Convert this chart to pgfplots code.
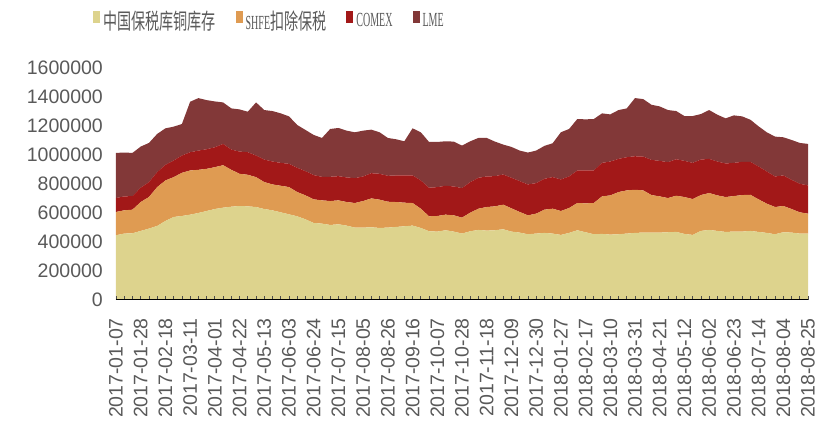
\documentclass[border=0pt]{standalone}
\usepackage{pgfplots}
\pgfplotsset{compat=1.18}
\usepackage{pgfplotstable}
\usepackage{fontspec}
\setmainfont{Liberation Sans}
\newfontfamily\cjk[FakeStretch=0.64]{Noto Sans CJK SC}
\newfontfamily\legserif[FakeStretch=0.5]{Liberation Serif}
\newcommand\lcjk{\cjk\fontsize{22}{22}\selectfont}
\newcommand\llat{\legserif\fontsize{20}{22}\selectfont}

\definecolor{cbond}{HTML}{DDD38D}
\definecolor{cshfe}{HTML}{DF9B52}
\definecolor{ccomex}{HTML}{A21818}
\definecolor{clme}{HTML}{823838}
\definecolor{txt}{HTML}{595959}

% weekly stocks (t); columns: index, bonded China, SHFE ex-bonded, COMEX, LME
\pgfplotstableread{
i  bond   shfe   comex  lme
0  446600 160300 96200  311400
1  458000 160300 96200  302300
2  460300 162600 93900  297700
3  476300 199200 98500  284000
4  492400 217600 103100 270200
5  510700 267900 103100 263400
6  545000 279400 107600 251900
7  572500 274800 114500 233600
8  579400 297700 119100 217600
9  588500 304600 126000 348100
10 600000 297700 132800 361800
11 613700 290800 135100 338900
12 627500 288500 137400 316000
13 636600 293100 146600 286300
14 643500 254200 139700 284000
15 648100 222100 153400 290800
16 645800 217600 155700 279400
17 641200 206100 148900 366400
18 627500 185500 155700 341200
19 618300 178600 158000 348100
20 604600 183200 158000 341200
21 590800 187800 160300 327500
22 577100 167200 167200 295400
23 556500 164900 167200 284000
24 531300 162600 167200 277100
25 526700 160300 162600 267900
26 517500 164900 167200 329800
27 522100 164900 167200 332100
28 513000 162600 169500 322900
29 499200 169500 171800 316000
30 499200 183200 169500 316000
31 501500 199200 174000 300000
32 496900 194700 178600 286300
33 499200 178600 178600 261100
34 503800 171800 183200 249600
35 508400 162600 187800 235900
36 513000 155700 190100 325200
37 496900 132800 194700 332100
38 474000 103100 196900 316000
39 471700 107600 199200 311400
40 480900 107600 199200 306900
41 471700 112200 199200 309200
42 458000 109900 203800 293100
43 474000 128200 210700 281700
44 483200 146600 213000 274800
45 478600 162600 210700 265600
46 480900 164900 208400 238200
47 487800 169500 208400 206100
48 471700 160300 210700 213000
49 464900 142000 213000 210700
50 453400 130500 213000 219800
51 458000 137400 210700 224400
52 462600 160300 213000 226700
53 458000 171800 217600 233600
54 448800 164900 217600 325200
55 462600 171800 217600 327500
56 480900 187800 224400 355000
57 467200 199200 226700 352700
58 453400 215300 224400 355000
59 455700 258800 231300 341200
60 451100 270200 233600 325200
61 453400 290800 229000 336600
62 458000 297700 229000 336600
63 462600 297700 231300 400800
64 464900 290800 233600 396200
65 464900 258800 242700 380100
66 464900 249600 245000 375600
67 467200 235900 247300 359500
68 469500 249600 251900 332100
69 455700 254200 249600 309200
70 448800 247300 249600 322900
71 476300 247300 245000 313700
72 483200 254200 235900 336600
73 476300 245000 233600 322900
74 469500 240500 231300 311400
75 471700 245000 229000 327500
76 471700 251900 229000 313700
77 476300 249600 226700 290800
78 469500 224400 226700 277100
79 462600 201500 222100 270200
80 453400 187800 210700 274800
81 467200 180900 210700 263400
82 464900 162600 201500 274800
83 458000 146600 196900 281700
84 458000 137400 194700 286300
}\stocks

\begin{document}
\begin{tikzpicture}
\begin{axis}[
  scale only axis, width=692pt, height=232pt,
  xmin=0, xmax=84, ymin=0, ymax=1600000,
  stack plots=y, axis on top,
  axis lines*=left,
  y axis line style={draw=none}, ytick style={draw=none},
  x axis line style={black, line width=1pt},
  xtick={0,3,...,84}, minor x tick num=2,
  xtick style={black!70, line width=0.8pt},
  major tick length=4pt, minor tick length=4pt,
  xticklabels={2017-01-07,2017-01-28,2017-02-18,2017-03-11,2017-04-01,2017-04-22,
    2017-05-13,2017-06-03,2017-06-24,2017-07-15,2017-08-05,2017-08-26,2017-09-16,
    2017-10-07,2017-10-28,2017-11-18,2017-12-09,2017-12-30,2018-01-27,2018-02-17,
    2018-03-10,2018-03-31,2018-04-21,2018-05-12,2018-06-02,2018-06-23,2018-07-14,
    2018-08-04,2018-08-25},
  xticklabel style={rotate=90, anchor=east, inner sep=0pt},
  xticklabel shift=18pt,
  ytick={0,200000,...,1600000},
  yticklabel style={anchor=east, inner sep=0pt, xshift=-13pt},
  scaled y ticks=false,
  /pgf/number format/.cd, fixed, 1000 sep={}, assume math mode=true, /pgfplots/.cd,
  tick label style={font=\fontsize{19.5}{20}\selectfont, text=txt},
  legend columns=4,
  legend image code/.code={\fill[#1] (0pt,-2pt) rectangle (7pt,10pt);},
  legend style={draw=none, fill=none, inner sep=0pt, outer sep=0pt,
    at={(-0.0332,1.204)}, anchor=west,
    nodes={inner sep=0pt, text=txt},
    /tikz/every odd column/.append style={column sep=3pt},
    /tikz/every even column/.append style={column sep=20pt}},
]
\addplot[fill=cbond, draw=none] table[x=i, y=bond] {\stocks} \closedcycle;
\addlegendentry{\lcjk 中国保税库铜库存\hspace{14pt}}
\addplot[fill=cshfe, draw=none] table[x=i, y=shfe] {\stocks} \closedcycle;
\addlegendentry{\llat SHFE\lcjk 扣除保税}
\addplot[fill=ccomex, draw=none] table[x=i, y=comex] {\stocks} \closedcycle;
\addlegendentry{\llat COMEX}
\addplot[fill=clme, draw=none] table[x=i, y=lme] {\stocks} \closedcycle;
\addlegendentry{\llat LME}
\end{axis}
\path (current axis.south west) ++(-116pt,-127pt) rectangle ++(819pt,427pt);
\end{tikzpicture}
\end{document}
